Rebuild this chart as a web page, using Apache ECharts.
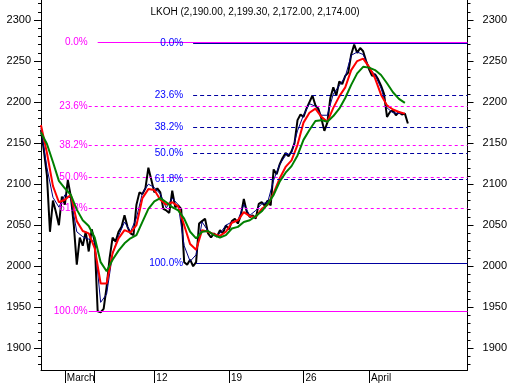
<!DOCTYPE html>
<html><head><meta charset="utf-8">
<script src="https://cdn.jsdelivr.net/npm/echarts@6/dist/echarts.min.js"></script>
<style>html,body{margin:0;padding:0;background:#fff}#c{width:510px;height:383px}</style>
</head><body><div id="c"></div>
<script>
// ---- data ----
const symbol = 'LKOH';
const lastBar = [2190.00, 2199.30, 2172.00, 2174.00]; // open, high, low, close
const barCount = 144;
const price = [2166,2140,2110,2042,2080,2066,2050,2085,2075,2105,
 2085,2050,2002,2035,2025,2042,2018,2045,2030,1945,
 1944,1948,1975,2010,2035,2030,2042,2048,2062,2048,
 2040,2038,2075,2090,2088,2095,2120,2105,2090,2095,
 2090,2070,2068,2065,2092,2072,2074,2070,2005,2002,
 2008,2000,2005,2052,2055,2058,2040,2035,2040,2036,
 2044,2040,2050,2045,2055,2058,2052,2062,2082,2066,
 2060,2062,2058,2076,2078,2074,2080,2074,2118,2112,
 2124,2132,2138,2134,2140,2150,2178,2185,2182,2192,
 2200,2208,2196,2192,2180,2165,2175,2205,2218,2208,
 2225,2222,2232,2236,2258,2270,2260,2266,2262,2250,
 2240,2232,2234,2228,2220,2210,2182,2188,2190,2184,
 2188,2185,2186,2174];
const maStep = 2; // moving averages read every 2nd bar
const maFast = [2168,2120,2084,2072,2087,2083,2042,2036,2033,2030,
 1956,1966,2015,2037,2054,2042,2059,2089,2100,2096,
 2088,2071,2083,2075,2025,2006,2014,2054,2043,2037,
 2040,2050,2054,2056,2075,2062,2068,2076,2078,2105,
 2124,2135,2138,2165,2184,2198,2195,2184,2184,2210,
 2220,2231,2257,2261,2258,2242,2233,2217,2193,2187,
 2186,2186];
const maMid = [2172,2138,2098,2078,2081,2087,2055,2043,2040,2022,
 1979,1979,2016,2034,2044,2041,2050,2083,2094,2093,
 2081,2075,2078,2073,2050,2027,2020,2044,2042,2039,
 2037,2042,2053,2056,2066,2061,2060,2070,2075,2089,
 2107,2121,2129,2148,2175,2187,2192,2182,2176,2193,
 2207,2218,2239,2250,2253,2243,2229,2209,2196,2191,
 2188,2186];
const maSlow = [2163,2149,2127,2104,2095,2087,2069,2056,2049,2035,
 2005,1994,2008,2019,2028,2034,2038,2054,2070,2079,
 2083,2078,2072,2068,2058,2042,2034,2042,2043,2038,
 2035,2038,2046,2048,2054,2056,2061,2067,2076,2087,
 2103,2114,2122,2135,2154,2166,2177,2178,2176,2183,
 2192,2205,2221,2235,2243,2242,2239,2233,2223,2212,
 2204,2199];
const tickIdx = [8, 18, 38, 63, 88, 110];
const tickText = ['March', '', '12', '19', '26', 'April'];
const yLabels = [1900, 1950, 2000, 2050, 2100, 2150, 2200, 2250, 2300];
const yMinor = [1880,1890,1900,1910,1920,1930,1940,1950,1960,1970,1980,1990,2000,2010,2020,2030,2040,2050,2060,2070,2080,2090,2100,2110,2120,2130,2140,2150,2160,2170,2180,2190,2200,2210,2220,2230,2240,2250,2260,2270,2280,2290,2300,2310,2320];
const fibLevels = [0.0, 23.6, 38.2, 50.0, 61.8, 100.0];
const fibA = {high: 2272.5, low: 1945, start: 16, topStart: 19};
const fibB = {high: 2271.5, low: 2004, start: 51, bottomStart: 52};
const yMin = 1873.6, yMax = 2324.4;

// ---- build ----
const FONT = 'Liberation Sans, Arial, sans-serif';
const categories = Array.from({length: barCount}, (_, i) => String(i));
const pad = arr => { const a = new Array(barCount).fill(null); arr.forEach((v, i) => a[i] = v); return a; };
const spread = arr => { const a = new Array(barCount).fill(null); arr.forEach((v, k) => a[k * maStep] = v); return a; };
const fmt = v => v.toLocaleString('en-US', {minimumFractionDigits: 2, maximumFractionDigits: 2});

function fibLines(f, lineColor, textColor, dash, isA) {
  return fibLevels.map(L => {
    const v = f.high - (f.high - f.low) * L / 100;
    let s = f.start, dist = isA ? 1 : 10;
    if (isA && L === 0) { s = f.topStart; dist = 10; }
    if (!isA && L === 100) { s = f.bottomStart; dist = 13; }
    const solid = (L === 0 || L === 100);
    return [{
      coord: [s, v],
      lineStyle: {color: lineColor, width: 1, type: solid ? 'solid' : dash},
      label: {show: true, position: 'start', distance: dist, formatter: L.toFixed(1) + '%',
              color: textColor, fontSize: 10, fontFamily: FONT}
    }, {coord: [barCount - 1, v]}];
  });
}

const yCommon = {type: 'value', min: yMin, max: yMax, splitLine: {show: false}};
const yFmt = v => String(v);
const option = {
  animation: false,
  backgroundColor: '#fff',
  title: {text: symbol + ' (' + lastBar.map(fmt).join(', ') + ')', left: 'center', top: 2,
          textStyle: {fontSize: 10, fontWeight: 'normal', color: '#000', fontFamily: FONT}},
  grid: {left: 41, right: 41, top: 0, bottom: 13},
  xAxis: {
    type: 'category', data: categories, boundaryGap: false,
    axisLine: {lineStyle: {color: '#000', width: 1}},
    axisTick: {interval: (i) => tickIdx.includes(i), length: 14, lineStyle: {color: '#000'}},
    axisLabel: {interval: (i) => tickIdx.includes(i), formatter: (v, i) => tickText[tickIdx.indexOf(+v)] || '',
                align: 'left', margin: 3, padding: [0, 0, 0, 2], fontSize: 10, color: '#000', fontFamily: FONT}
  },
  yAxis: [
    Object.assign({}, yCommon, {position: 'left',
      axisLine: {show: true, lineStyle: {color: '#000'}},
      axisTick: {show: true, customValues: yLabels, length: 7, lineStyle: {color: '#000'}},
      axisLabel: {customValues: yLabels, formatter: yFmt, margin: 10, fontSize: 11, color: '#000', fontFamily: FONT}}),
    Object.assign({}, yCommon, {position: 'right',
      axisLine: {show: true, lineStyle: {color: '#000'}},
      axisTick: {show: true, customValues: yLabels, length: 6, lineStyle: {color: '#000'}},
      axisLabel: {customValues: yLabels, formatter: yFmt, margin: 15, fontSize: 11, color: '#000', fontFamily: FONT}}),
    Object.assign({}, yCommon, {position: 'left',
      axisLine: {show: false},
      axisTick: {show: true, customValues: yMinor, length: 3, lineStyle: {color: '#000'}},
      axisLabel: {show: false}}),
    Object.assign({}, yCommon, {position: 'right',
      axisLine: {show: false},
      axisTick: {show: true, customValues: yMinor, length: 3, lineStyle: {color: '#000'}},
      axisLabel: {show: false}})
  ],
  series: [
    {type: 'line', name: 'fib', data: new Array(barCount).fill(null), z: 1, silent: true,
     markLine: {silent: true, symbol: ['none', 'none'], animation: false,
       data: fibLines(fibA, '#ff00ff', '#ff00ff', [3, 3], true).concat(fibLines(fibB, '#0000a0', '#0000ff', [4, 3], false))}},
    {type: 'line', name: symbol, data: pad(price), showSymbol: false, z: 2,
     lineStyle: {color: '#000', width: 2}},
    {type: 'line', name: 'fast', data: spread(maFast), connectNulls: true, showSymbol: false, z: 3,
     lineStyle: {color: '#000080', width: 1}},
    {type: 'line', name: 'mid', data: spread(maMid), connectNulls: true, showSymbol: false, z: 4,
     lineStyle: {color: '#ff0000', width: 2}},
    {type: 'line', name: 'slow', data: spread(maSlow), connectNulls: true, showSymbol: false, z: 5,
     lineStyle: {color: '#008000', width: 2}}
  ]
};
const chart = echarts.init(document.getElementById('c'), null, {renderer: 'canvas'});
chart.setOption(option);
</script></body></html>
